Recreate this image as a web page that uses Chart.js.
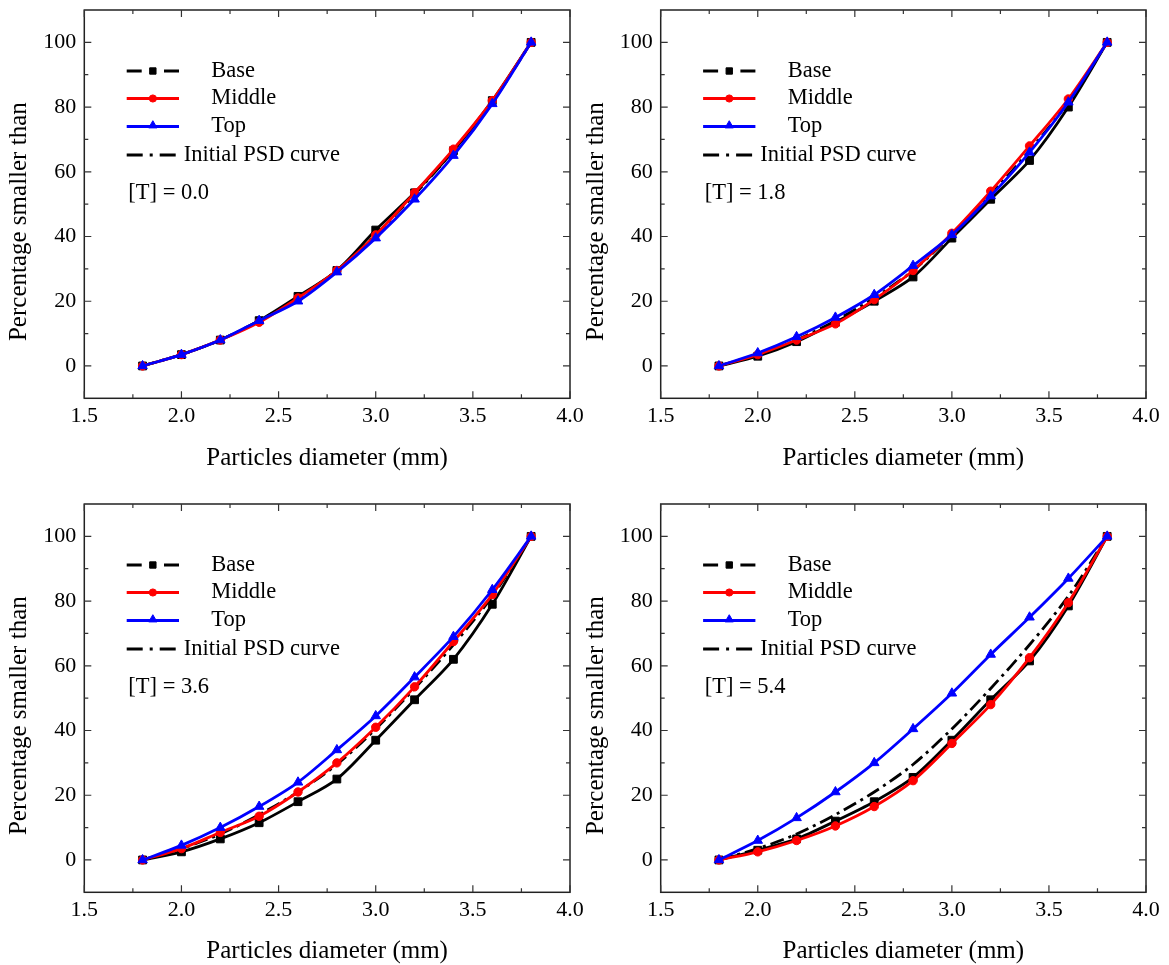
<!DOCTYPE html>
<html><head><meta charset="utf-8">
<script src="https://cdn.jsdelivr.net/npm/chart.js@4.4.1/dist/chart.umd.min.js"></script>
<style>
html,body{margin:0;padding:0;background:#fff;}
#wrap{position:relative;width:1169px;height:965px;overflow:hidden;}
canvas{position:absolute;left:0;top:0;}
</style></head><body><div id="wrap">
<canvas id="c0" width="1169" height="965"></canvas>
<canvas id="c1" width="1169" height="965"></canvas>
<canvas id="c2" width="1169" height="965"></canvas>
<canvas id="c3" width="1169" height="965"></canvas>
</div>
<script>
// ---------- data ----------
const diameters = [1.8, 2.0, 2.2, 2.4, 2.6, 2.8, 3.0, 3.2, 3.4, 3.6, 3.8];
const initialPSD = [0, 3.5, 8, 14, 21, 29.5, 40.5, 53, 66.5, 81.5, 100];

const baseT00   = [0, 3.5, 8, 14, 21.5, 29.5, 42, 53.5, 66.5, 82, 100];
const middleT00 = [0, 3.5, 8, 13.5, 21, 29.5, 40.5, 53.5, 67, 82, 100];
const topT00    = [0, 3.5, 8, 14, 20, 29, 39.5, 51.5, 65, 81, 100];

const baseT18   = [0, 3, 7.5, 13.5, 20, 27.5, 39.5, 51.5, 63.5, 80, 100];
const middleT18 = [0, 3.5, 8, 13, 20.5, 29.5, 41, 54, 68, 82.5, 100];
const topT18    = [0, 4, 9, 15, 22, 31, 40.5, 52.5, 66, 81.5, 100];

const baseT36   = [0, 2.5, 6.5, 11.5, 18, 25, 37, 49.5, 62, 79, 100];
const middleT36 = [0, 3.5, 8.5, 13.5, 21, 30, 41, 53.5, 67.5, 82, 100];
const topT36    = [0, 4.5, 10, 16.5, 24, 34, 44.5, 56.5, 69, 83.5, 100];

const baseT54   = [0, 3, 6.5, 12, 18, 25.5, 37, 49.5, 61.5, 78.5, 100];
const middleT54 = [0, 2.5, 6, 10.5, 16.5, 24.5, 36, 48, 62.5, 79.5, 100];
const topT54    = [0, 6, 13, 21, 30, 40.5, 51.5, 63.5, 75, 87, 100];

const panelLabels = ['[T] = 0.0', '[T] = 1.8', '[T] = 3.6', '[T] = 5.4'];
const seriesNames = ['Base', 'Middle', 'Top', 'Initial PSD curve'];
const xTickValues = [1.5, 2.0, 2.5, 3.0, 3.5, 4.0];
const xTickLabels = ['1.5', '2.0', '2.5', '3.0', '3.5', '4.0'];
const xMinorValues = [1.75, 2.25, 2.75, 3.25, 3.75];
const yTickValues = [0, 20, 40, 60, 80, 100];
const yTickLabels = ['0', '20', '40', '60', '80', '100'];
const yMinorValues = [10, 30, 50, 70, 90];
const xTitle = 'Particles diameter (mm)';
const yTitle = 'Percentage smaller than';

// ---------- layout / style ----------
const FONT = '"Liberation Serif", "Times New Roman", serif';
const panelData = [
  [baseT00, middleT00, topT00],
  [baseT18, middleT18, topT18],
  [baseT36, middleT36, topT36],
  [baseT54, middleT54, topT54]
];
const areas = [
  {l: 84.3, t: 10, r: 570, b: 398.3, xt: 458.3},
  {l: 660.7, t: 10, r: 1146, b: 398.3, xt: 458.3},
  {l: 84.3, t: 504, r: 570, b: 892.3, xt: 951.7},
  {l: 660.7, t: 504, r: 1146, b: 892.3, xt: 951.7}
];
const yTitleX = [19, 596.5, 19, 596.5];
const padLeft = [0, 580, 0, 580];
const DASHDOT = [14, 5, 3, 5];

const toPts = arr => diameters.map((d, i) => ({x: d, y: arr[i]}));

const framePlugin = {
  id: 'frame',
  afterDatasetsDraw(chart, args, o) {
    const {ctx, chartArea: a} = chart;
    const xs = chart.scales.x, ys = chart.scales.y;
    ctx.save();
    ctx.strokeStyle = '#222';
    ctx.lineWidth = 1.5;
    ctx.strokeRect(a.left, a.top, a.right - a.left, a.bottom - a.top);
    ctx.lineWidth = 1.2;
    ctx.strokeStyle = '#333';
    ctx.beginPath();
    const MAJ = 7, MIN = 4;
    xTickValues.forEach(v => {
      const p = xs.getPixelForValue(v);
      ctx.moveTo(p, a.bottom); ctx.lineTo(p, a.bottom - MAJ);
      ctx.moveTo(p, a.top); ctx.lineTo(p, a.top + MAJ);
    });
    xMinorValues.forEach(v => {
      const p = xs.getPixelForValue(v);
      ctx.moveTo(p, a.bottom); ctx.lineTo(p, a.bottom - MIN);
      ctx.moveTo(p, a.top); ctx.lineTo(p, a.top + MIN);
    });
    yTickValues.forEach(v => {
      const p = ys.getPixelForValue(v);
      ctx.moveTo(a.left, p); ctx.lineTo(a.left + MAJ, p);
      ctx.moveTo(a.right, p); ctx.lineTo(a.right - MAJ, p);
    });
    yMinorValues.forEach(v => {
      const p = ys.getPixelForValue(v);
      ctx.moveTo(a.left, p); ctx.lineTo(a.left + MIN, p);
      ctx.moveTo(a.right, p); ctx.lineTo(a.right - MIN, p);
    });
    ctx.stroke();

    // y axis title
    ctx.fillStyle = '#000';
    ctx.font = '25px ' + FONT;
    ctx.textAlign = 'center';
    ctx.textBaseline = 'middle';
    ctx.save();
    ctx.translate(o.yTitleX, (a.top + a.bottom) / 2 + 17.5);
    ctx.rotate(-Math.PI / 2);
    ctx.fillText(yTitle, 0, 0);
    ctx.restore();

    // legend
    const rows = [61, 88.5, 116.5, 145];
    const lx0 = a.left + 42.4, lx1 = a.left + 94.7;
    ctx.font = '22.5px ' + FONT;
    ctx.textAlign = 'left';
    ctx.textBaseline = 'middle';
    const H = Chart.helpers;
    // Base
    let y = a.top + rows[0];
    ctx.strokeStyle = '#000'; ctx.fillStyle = '#000'; ctx.lineWidth = 2.8;
    ctx.beginPath();
    ctx.moveTo(lx0, y); ctx.lineTo(lx0 + 15, y);
    ctx.moveTo(lx1 - 15, y); ctx.lineTo(lx1, y);
    ctx.stroke();
    ctx.lineWidth = 1;
    H.drawPoint(ctx, {pointStyle: 'rect', radius: 4.5, rotation: 0, borderWidth: 1}, (lx0 + lx1) / 2, y);
    ctx.fillText(seriesNames[0], a.left + 127, y);
    // Middle
    y = a.top + rows[1];
    ctx.strokeStyle = '#ff0000'; ctx.fillStyle = '#ff0000'; ctx.lineWidth = 2.8;
    ctx.beginPath(); ctx.moveTo(lx0, y); ctx.lineTo(lx1, y); ctx.stroke();
    ctx.lineWidth = 1;
    H.drawPoint(ctx, {pointStyle: 'circle', radius: 3.6, rotation: 0, borderWidth: 1}, (lx0 + lx1) / 2, y);
    ctx.fillStyle = '#000';
    ctx.fillText(seriesNames[1], a.left + 127, y);
    // Top
    y = a.top + rows[2];
    ctx.strokeStyle = '#0000ff'; ctx.fillStyle = '#0000ff'; ctx.lineWidth = 2.8;
    ctx.beginPath(); ctx.moveTo(lx0, y); ctx.lineTo(lx1, y); ctx.stroke();
    ctx.lineWidth = 1;
    H.drawPoint(ctx, {pointStyle: 'triangle', radius: 4.8, rotation: 0, borderWidth: 1}, (lx0 + lx1) / 2, y - 1);
    ctx.fillStyle = '#000';
    ctx.fillText(seriesNames[2], a.left + 127, y);
    // Initial PSD
    y = a.top + rows[3];
    ctx.strokeStyle = '#000'; ctx.lineWidth = 2.8;
    ctx.beginPath();
    ctx.moveTo(lx0, y); ctx.lineTo(lx0 + 16, y);
    ctx.moveTo(lx0 + 23, y); ctx.lineTo(lx0 + 26, y);
    ctx.moveTo(lx0 + 33, y); ctx.lineTo(lx0 + 49, y);
    ctx.stroke();
    ctx.fillStyle = '#000';
    ctx.fillText(seriesNames[3], a.left + 99.5, y);
    ctx.fillText(o.label, a.left + 44, a.top + 183);
    ctx.restore();
  }
};

function makeChart(idx) {
  const ar = areas[idx];
  const [b, m, t] = panelData[idx];
  const W = ar.l - padLeft[idx];
  const Hx = ar.xt + 12.5 - ar.b;
  const lineCommon = {borderWidth: 2.8, tension: 0.3, pointBorderWidth: 1, pointHoverRadius: 5};
  new Chart(document.getElementById('c' + idx), {
    type: 'line',
    data: {
      datasets: [
        Object.assign({label: seriesNames[2], data: toPts(t), borderColor: '#0000ff', backgroundColor: '#0000ff',
          pointStyle: 'triangle', pointRadius: 5.5}, lineCommon),
        Object.assign({label: seriesNames[1], data: toPts(m), borderColor: '#ff0000', backgroundColor: '#ff0000',
          pointStyle: 'circle', pointRadius: 4.2}, lineCommon),
        Object.assign({label: seriesNames[0], data: toPts(b), borderColor: '#000000', backgroundColor: '#000000',
          pointStyle: 'rect', pointRadius: 5.5}, lineCommon),
        Object.assign({label: seriesNames[3], data: toPts(initialPSD), borderColor: '#000000', backgroundColor: '#000000',
          pointRadius: 0, borderDash: DASHDOT}, lineCommon)
      ]
    },
    options: {
      responsive: false,
      animation: false,
      devicePixelRatio: 1,
      clip: false,
      layout: {padding: {left: padLeft[idx], top: ar.t, right: 1169 - ar.r, bottom: 965 - ar.b - Hx}},
      plugins: {
        legend: {display: false},
        tooltip: {enabled: false},
        frame: {label: panelLabels[idx], yTitleX: yTitleX[idx]}
      },
      scales: {
        x: {
          type: 'linear', min: 1.5, max: 4.0,
          afterBuildTicks: s => { s.ticks = xTickValues.map(v => ({value: v})); },
          afterFit: s => { s.height = Hx; s.paddingLeft = 0; s.paddingRight = 0; },
          ticks: {
            padding: 5, color: '#000', maxRotation: 0, autoSkip: false,
            font: {family: FONT, size: 22},
            callback: (v) => xTickLabels[xTickValues.indexOf(v)]
          },
          grid: {display: false, drawTicks: false},
          border: {display: false},
          title: {display: true, text: xTitle, color: '#000', padding: 0,
            font: {family: FONT, size: 25, lineHeight: 1}}
        },
        y: {
          type: 'linear', min: -10, max: 110,
          afterBuildTicks: s => { s.ticks = yTickValues.map(v => ({value: v})); },
          afterFit: s => { s.width = W; s.paddingTop = 0; s.paddingBottom = 0; },
          ticks: {
            padding: 8, color: '#000', autoSkip: false,
            font: {family: FONT, size: 22},
            callback: (v) => yTickLabels[yTickValues.indexOf(v)]
          },
          grid: {display: false, drawTicks: false},
          border: {display: false}
        }
      }
    },
    plugins: [framePlugin]
  });
}
[0, 1, 2, 3].forEach(makeChart);
</script>
</body></html>
